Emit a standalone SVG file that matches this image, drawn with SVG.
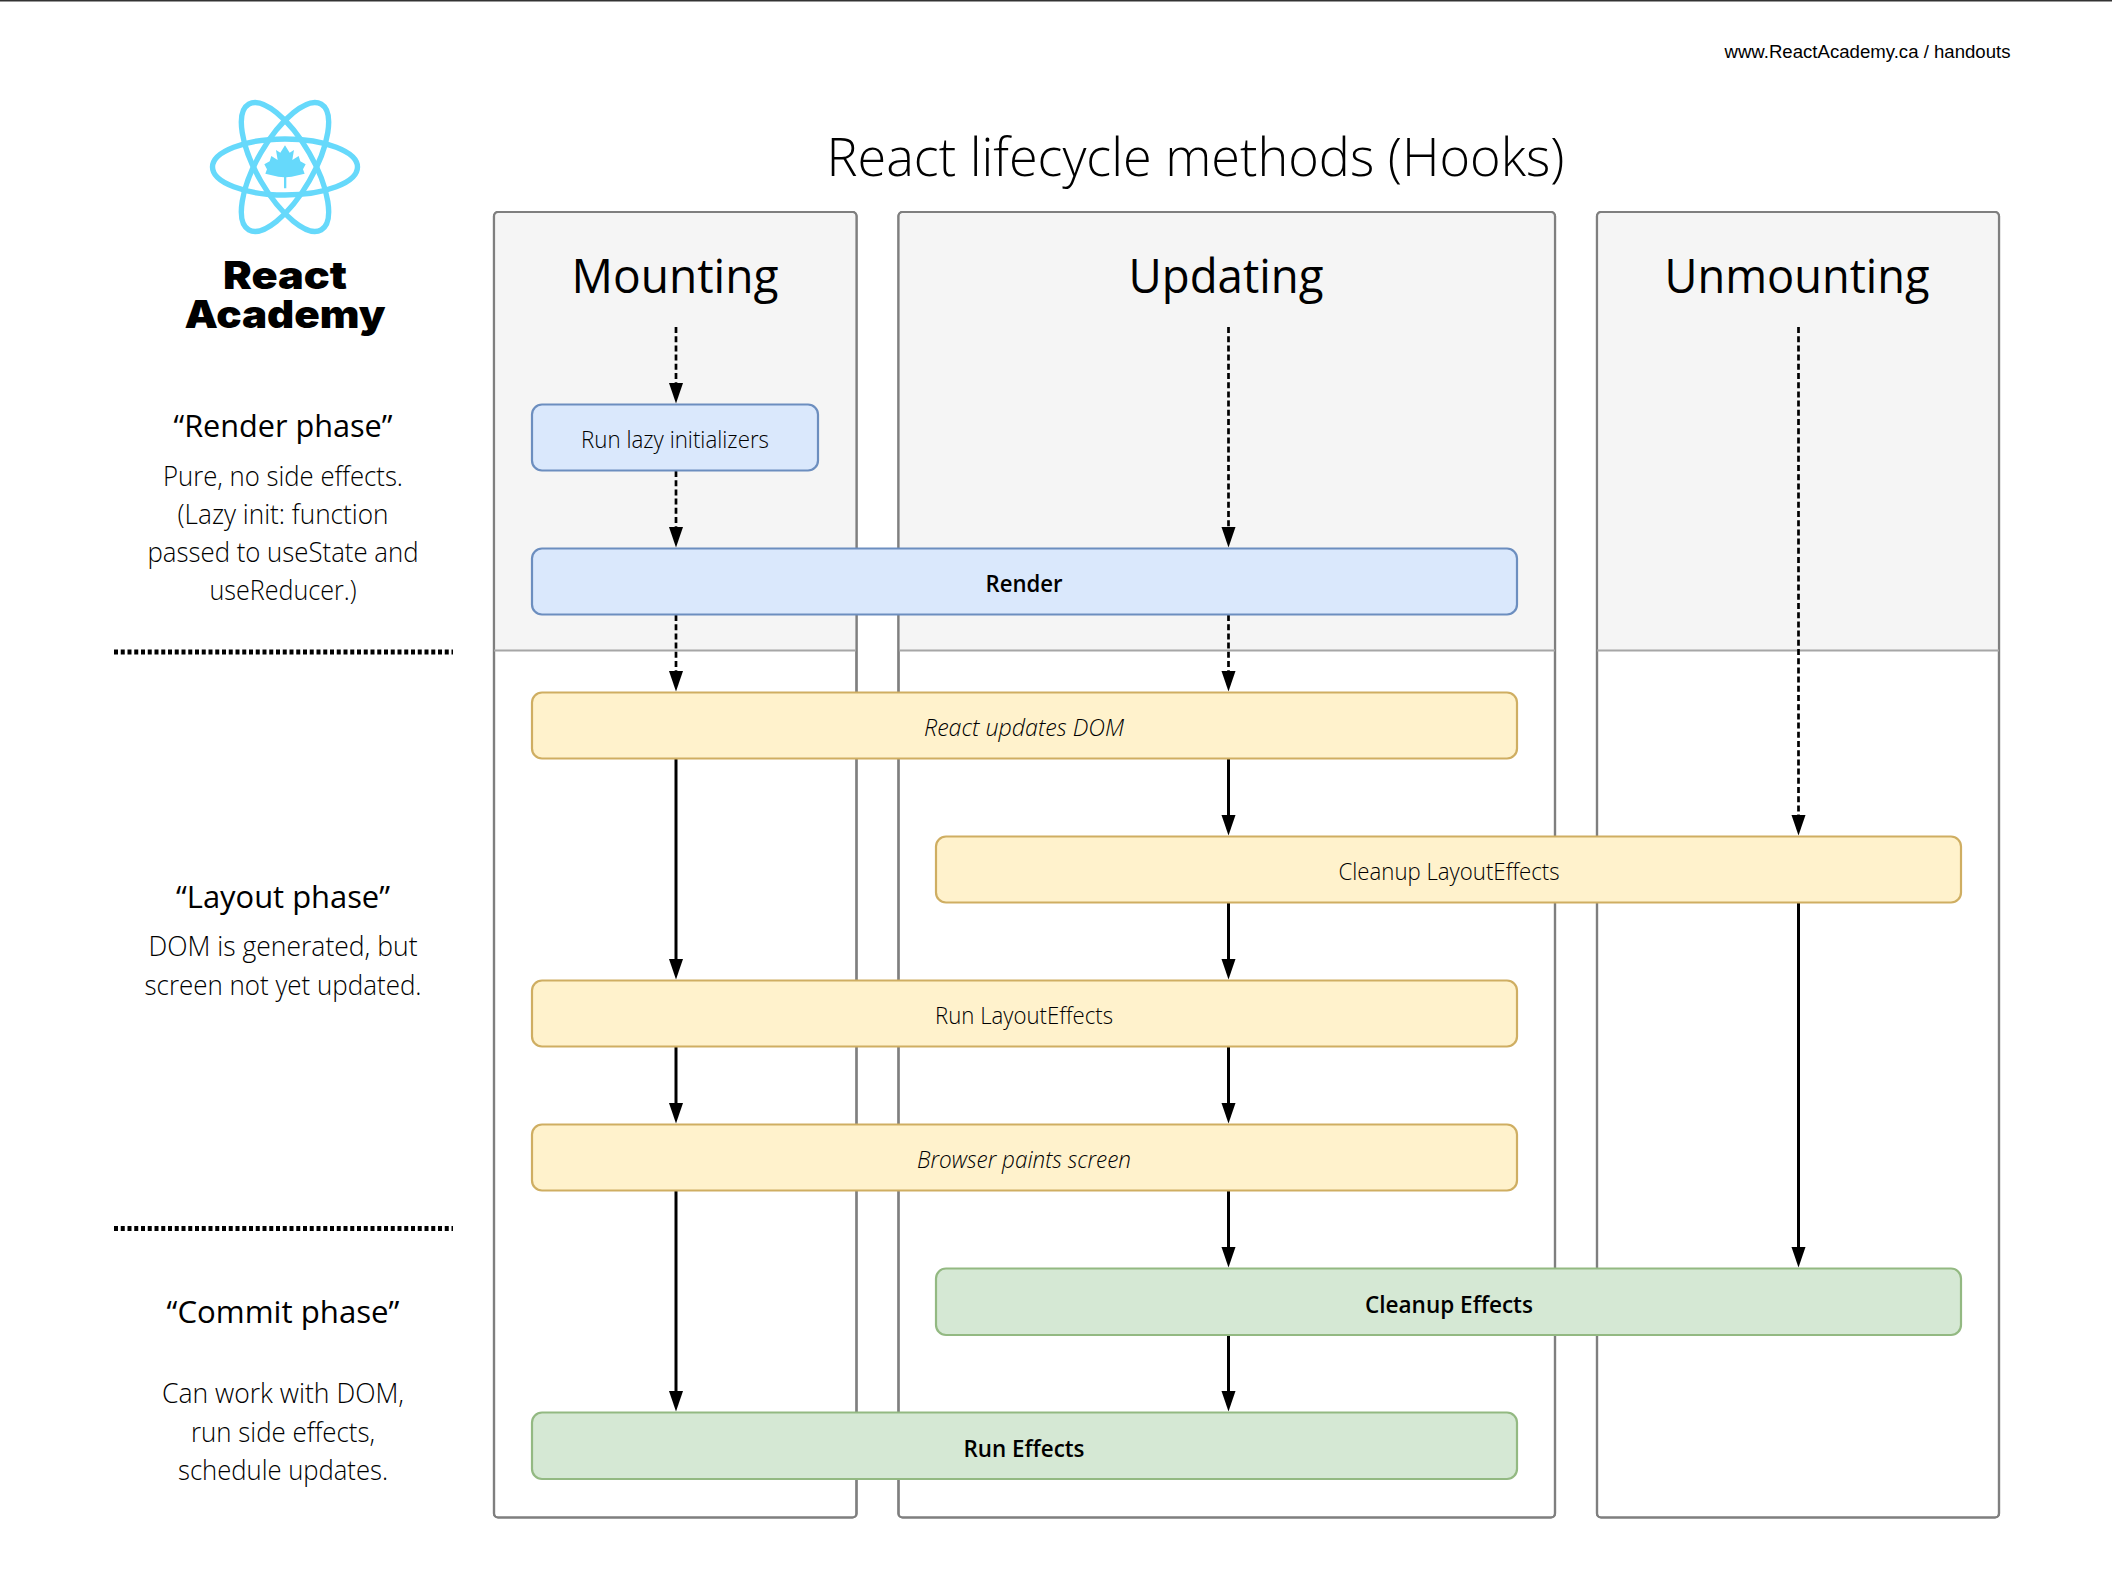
<svg xmlns="http://www.w3.org/2000/svg" width="2112" height="1574" viewBox="0 0 2112 1574">
<style>
text{font-family:"Open Sans","Noto Sans","Liberation Sans",sans-serif;fill:#000;text-anchor:middle}
.panel{fill:#fff;stroke:#7f7f7f;stroke-width:2.2}
.head{fill:#f5f5f5;stroke:none}
.div{stroke:#a6a6a6;stroke-width:2;fill:none}
.title{font-size:54px;font-weight:300}
.h{font-size:47px;font-weight:400}
.ph{font-size:31px;font-weight:400}
.body{font-size:28px;font-weight:300}
.lbl{font-size:24px;font-weight:300}
.b{font-size:24px;font-weight:600}
.i{font-size:24px;font-weight:300;font-style:italic}
.n{stroke-width:2.2}
.blue{fill:#dae8fc;stroke:#6c8ebf}
.yel{fill:#fff2cc;stroke:#cfae62}
.grn{fill:#d5e8d4;stroke:#93b982}
.s{stroke:#000;stroke-width:3;fill:none;marker-end:url(#ah)}
.d{stroke:#000;stroke-width:2.7;fill:none;stroke-dasharray:6 3.2;marker-end:url(#ah)}
.dots{stroke:#000;stroke-width:5;stroke-dasharray:4 2.75;fill:none}
.logo{fill:none;stroke:#66d9fb;stroke-width:5.400}
.lg{font-family:Inter,'Liberation Sans',sans-serif;font-weight:900;font-size:38px}
</style>
<defs><marker id="ah" markerUnits="userSpaceOnUse" markerWidth="22" markerHeight="16" refX="0.5" refY="8" orient="auto"><path d="M0 1L20.500 8L0 15Z" fill="#000"/></marker></defs>
<rect width="2112" height="1574" fill="#fff"/>
<rect x="0" y="0" width="2112" height="1.500" fill="#333"/>
<text id="url" x="1867.500" y="57.500" style="font-family:'Liberation Sans',Arial,sans-serif;font-size:18.700px" textLength="286" lengthAdjust="spacingAndGlyphs">www.ReactAcademy.ca / handouts</text>
<text id="title" class="title" x="1195.500" y="176" textLength="738" lengthAdjust="spacingAndGlyphs">React lifecycle methods (Hooks)</text>

<g id="logo">
<ellipse class="logo" cx="285" cy="167" rx="72.500" ry="28"/>
<ellipse class="logo" cx="285" cy="167" rx="72.500" ry="28" transform="rotate(60 285 167)"/>
<ellipse class="logo" cx="285" cy="167" rx="72.500" ry="28" transform="rotate(-60 285 167)"/>
<path transform="translate(150 70) scale(.3333)" fill="#66d9fb" d="M405 226L419 248L432 240L427 270L446 258L451 274L467 283L459 298L464 311L425 320L409 322V355H402V322L385 320L346 311L351 298L343 283L359 274L364 258L383 270L378 240L391 248Z"/>
<text class="lg"><tspan x="285" y="289" textLength="124" lengthAdjust="spacingAndGlyphs">React</tspan><tspan x="285" y="328" textLength="201" lengthAdjust="spacingAndGlyphs">Academy</tspan></text>
</g>

<g id="phases">
<text class="ph" x="283" y="437" textLength="219" lengthAdjust="spacingAndGlyphs">“Render phase”</text>
<text class="body" x="283" y="486" textLength="240" lengthAdjust="spacingAndGlyphs">Pure, no side effects.</text>
<text class="body" x="283" y="524" textLength="211" lengthAdjust="spacingAndGlyphs">(Lazy init: function</text>
<text class="body" x="283" y="562" textLength="271" lengthAdjust="spacingAndGlyphs">passed to useState and</text>
<text class="body" x="283" y="600" textLength="147" lengthAdjust="spacingAndGlyphs">useReducer.)</text>
<path class="dots" d="M114 652H453"/>
<text class="ph" x="283" y="908" textLength="214" lengthAdjust="spacingAndGlyphs">“Layout phase”</text>
<text class="body" x="283" y="956" textLength="269" lengthAdjust="spacingAndGlyphs">DOM is generated, but</text>
<text class="body" x="283" y="995" textLength="277" lengthAdjust="spacingAndGlyphs">screen not yet updated.</text>
<path class="dots" d="M114 1228.500H453"/>
<text class="ph" x="283" y="1323" textLength="233" lengthAdjust="spacingAndGlyphs">“Commit phase”</text>
<text class="body" x="283" y="1403" textLength="242" lengthAdjust="spacingAndGlyphs">Can work with DOM,</text>
<text class="body" x="283" y="1442" textLength="184" lengthAdjust="spacingAndGlyphs">run side effects,</text>
<text class="body" x="283" y="1480" textLength="210" lengthAdjust="spacingAndGlyphs">schedule updates.</text>
</g>

<g id="panel-mounting">
<rect class="panel" x="494" y="212" width="362.500" height="1305.500" rx="4"/>
<path class="head" d="M495 650.500V217Q495 213 499 213H852Q856 213 856 217V650.500Z"/>
<rect class="panel" x="494" y="212" width="362.500" height="1305.500" rx="4" style="fill:none"/>
<path class="div" d="M494 650.500H856"/>
<text class="h" x="675" y="293" textLength="207" lengthAdjust="spacingAndGlyphs">Mounting</text>
</g>
<g id="panel-updating">
<rect class="panel" x="898.500" y="212" width="656.500" height="1305.500" rx="4"/>
<path class="head" d="M899 650.500V217Q899 213 903 213H1550Q1554 213 1554 217V650.500Z"/>
<rect class="panel" x="898.500" y="212" width="656.500" height="1305.500" rx="4" style="fill:none"/>
<path class="div" d="M899 650.500H1555"/>
<text class="h" x="1226" y="293" textLength="195" lengthAdjust="spacingAndGlyphs">Updating</text>
</g>
<g id="panel-unmounting">
<rect class="panel" x="1597" y="212" width="402" height="1305.500" rx="4"/>
<path class="head" d="M1598 650.500V217Q1598 213 1602 213H1994Q1998 213 1998 217V650.500Z"/>
<rect class="panel" x="1597" y="212" width="402" height="1305.500" rx="4" style="fill:none"/>
<path class="div" d="M1597 650.500H1999"/>
<text class="h" x="1797" y="293" textLength="265" lengthAdjust="spacingAndGlyphs">Unmounting</text>
</g>

<g id="connectors">
<line class="d" x1="676" y1="327" x2="676" y2="383.500"/>
<line class="d" x1="676" y1="471" x2="676" y2="527.500"/>
<line class="d" x1="676" y1="615" x2="676" y2="671.500"/>
<line class="s" x1="676" y1="759" x2="676" y2="959.500"/>
<line class="s" x1="676" y1="1047" x2="676" y2="1103.500"/>
<line class="s" x1="676" y1="1191" x2="676" y2="1391.500"/>
<line class="d" x1="1228.500" y1="327" x2="1228.500" y2="527.500"/>
<line class="d" x1="1228.500" y1="615" x2="1228.500" y2="671.500"/>
<line class="s" x1="1228.500" y1="759" x2="1228.500" y2="815.500"/>
<line class="s" x1="1228.500" y1="903" x2="1228.500" y2="959.500"/>
<line class="s" x1="1228.500" y1="1047" x2="1228.500" y2="1103.500"/>
<line class="s" x1="1228.500" y1="1191" x2="1228.500" y2="1247.500"/>
<line class="s" x1="1228.500" y1="1335" x2="1228.500" y2="1391.500"/>
<line class="d" x1="1798.500" y1="327" x2="1798.500" y2="815.500"/>
<line class="s" x1="1798.500" y1="903" x2="1798.500" y2="1247.500"/>
</g>

<g id="node-lazy"><rect class="n blue" x="532" y="404.500" width="286" height="66" rx="10"/><text class="lbl" x="675" y="447.500" textLength="188" lengthAdjust="spacingAndGlyphs">Run lazy initializers</text></g>
<g id="node-render"><rect class="n blue" x="532" y="548.500" width="985" height="66" rx="10"/><text class="b" x="1024" y="591.500" textLength="77" lengthAdjust="spacingAndGlyphs">Render</text></g>
<g id="node-dom"><rect class="n yel" x="532" y="692.500" width="985" height="66" rx="10"/><text class="i" x="1024" y="735.500" textLength="200" lengthAdjust="spacingAndGlyphs">React updates DOM</text></g>
<g id="node-cleanup-layout"><rect class="n yel" x="936" y="836.500" width="1025" height="66" rx="10"/><text class="lbl" x="1449" y="879.500" textLength="221" lengthAdjust="spacingAndGlyphs">Cleanup LayoutEffects</text></g>
<g id="node-run-layout"><rect class="n yel" x="532" y="980.500" width="985" height="66" rx="10"/><text class="lbl" x="1024" y="1023.500" textLength="178" lengthAdjust="spacingAndGlyphs">Run LayoutEffects</text></g>
<g id="node-paint"><rect class="n yel" x="532" y="1124.500" width="985" height="66" rx="10"/><text class="i" x="1024" y="1167.500" textLength="214" lengthAdjust="spacingAndGlyphs">Browser paints screen</text></g>
<g id="node-cleanup-effects"><rect class="n grn" x="936" y="1268.500" width="1025" height="66.500" rx="10"/><text class="b" x="1449" y="1312.500" textLength="168" lengthAdjust="spacingAndGlyphs">Cleanup Effects</text></g>
<g id="node-run-effects"><rect class="n grn" x="532" y="1412.500" width="985" height="66.500" rx="10"/><text class="b" x="1024" y="1456.500" textLength="121" lengthAdjust="spacingAndGlyphs">Run Effects</text></g>
</svg>
